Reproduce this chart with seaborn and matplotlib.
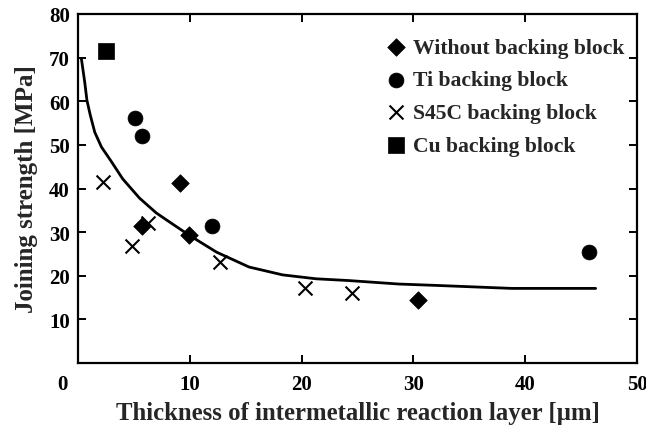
import numpy as np
import pandas as pd
import matplotlib
matplotlib.use("Agg")
import matplotlib.pyplot as plt
import matplotlib.transforms as mtransforms
import seaborn as sns

# ---- data ----
without_x = [5.7, 9.1, 9.9, 30.4]
without_y = [31.4, 41.3, 29.4, 14.5]

ti_x = [5.1, 5.7, 12.0, 45.7]
ti_y = [56.2, 52.1, 31.4, 25.5]

s45c_x = [2.2, 4.8, 6.3, 12.7, 20.3, 24.5]
s45c_y = [41.5, 26.9, 32.1, 23.2, 17.2, 16.1]

cu_x = [2.5]
cu_y = [71.6]

curve_x = [0.3, 0.6, 0.8, 1.1, 1.5, 2.1, 2.9, 4.0, 5.5, 7.0, 8.2, 10.0,
           12.4, 15.3, 18.3, 21.3, 24.2, 28.7, 31.9, 38.8, 46.3]
curve_y = [69.8, 64.4, 60.2, 56.8, 52.9, 49.5, 46.5, 42.2, 37.8, 34.4, 32.3, 29.2,
           25.4, 22.0, 20.2, 19.3, 18.9, 18.1, 17.8, 17.1, 17.1]

labels = ["Without backing block", "Ti backing block",
          "S45C backing block", "Cu backing block"]
x_ticks = [0, 10, 20, 30, 40, 50]
y_ticks = [10, 20, 30, 40, 50, 60, 70, 80]

sns.set_theme(style="ticks")
plt.rcParams["font.family"] = ["Liberation Serif", "DejaVu Serif"]
plt.rcParams["font.weight"] = "bold"
plt.rcParams["axes.labelweight"] = "bold"

fig = plt.figure(figsize=(6.46, 4.27), dpi=100)
ax = fig.add_axes([78 / 646, 1 - 364 / 427, (637 - 78) / 646, (364 - 15) / 427])

sns.lineplot(x=curve_x, y=curve_y, ax=ax, color="black", linewidth=2.0,
             sort=False, estimator=None, legend=False)

sns.scatterplot(x=without_x, y=without_y, ax=ax, marker="D", s=80,
                color="black", edgecolor="black", linewidth=0.5, label=labels[0], zorder=3)
sns.scatterplot(x=ti_x, y=ti_y, ax=ax, marker="o", s=115,
                color="black", edgecolor="black", linewidth=0.5, label=labels[1], zorder=3)
sns.scatterplot(x=s45c_x, y=s45c_y, ax=ax, marker="x", s=100,
                color="black", linewidth=1.5, label=labels[2], zorder=3)
sns.scatterplot(x=cu_x, y=cu_y, ax=ax, marker="s", s=125,
                color="black", edgecolor="black", linewidth=0.5, label=labels[3], zorder=3)

ax.set_xlim(0, 50)
ax.set_ylim(0, 80)
ax.set_xticks(x_ticks)
ax.set_yticks(y_ticks)
ax.set_xticklabels([str(t) for t in x_ticks], fontsize=15, fontweight="bold")
ax.set_yticklabels([str(t) for t in y_ticks], fontsize=15, fontweight="bold")
ax.tick_params(direction="in", length=6, width=1.4, top=True, right=True,
               labeltop=False, labelright=False, pad=6, colors="black")
ax.tick_params(axis="x", pad=8)

# shift the "0" label to the left as in the reference
lbl0 = ax.get_xticklabels()[0]
lbl0.set_transform(lbl0.get_transform() + mtransforms.ScaledTranslation(-16 / 100, 0, fig.dpi_scale_trans))

for sp in ax.spines.values():
    sp.set_linewidth(1.6)
    sp.set_color("black")

ax.set_xlabel("Thickness of intermetallic reaction layer [µm]", fontsize=17.8,
              fontweight="bold", labelpad=5)
ax.set_ylabel("Joining strength [MPa]", fontsize=18, fontweight="bold", labelpad=8)

leg = ax.legend(loc="upper left", bbox_to_anchor=(0.557, 0.933), frameon=False,
                fontsize=15.6, handlelength=0.6, handletextpad=0.5,
                labelspacing=0.58, borderaxespad=0, borderpad=0)
for t in leg.get_texts():
    t.set_fontweight("bold")

fig.savefig("out.png", dpi=100)
